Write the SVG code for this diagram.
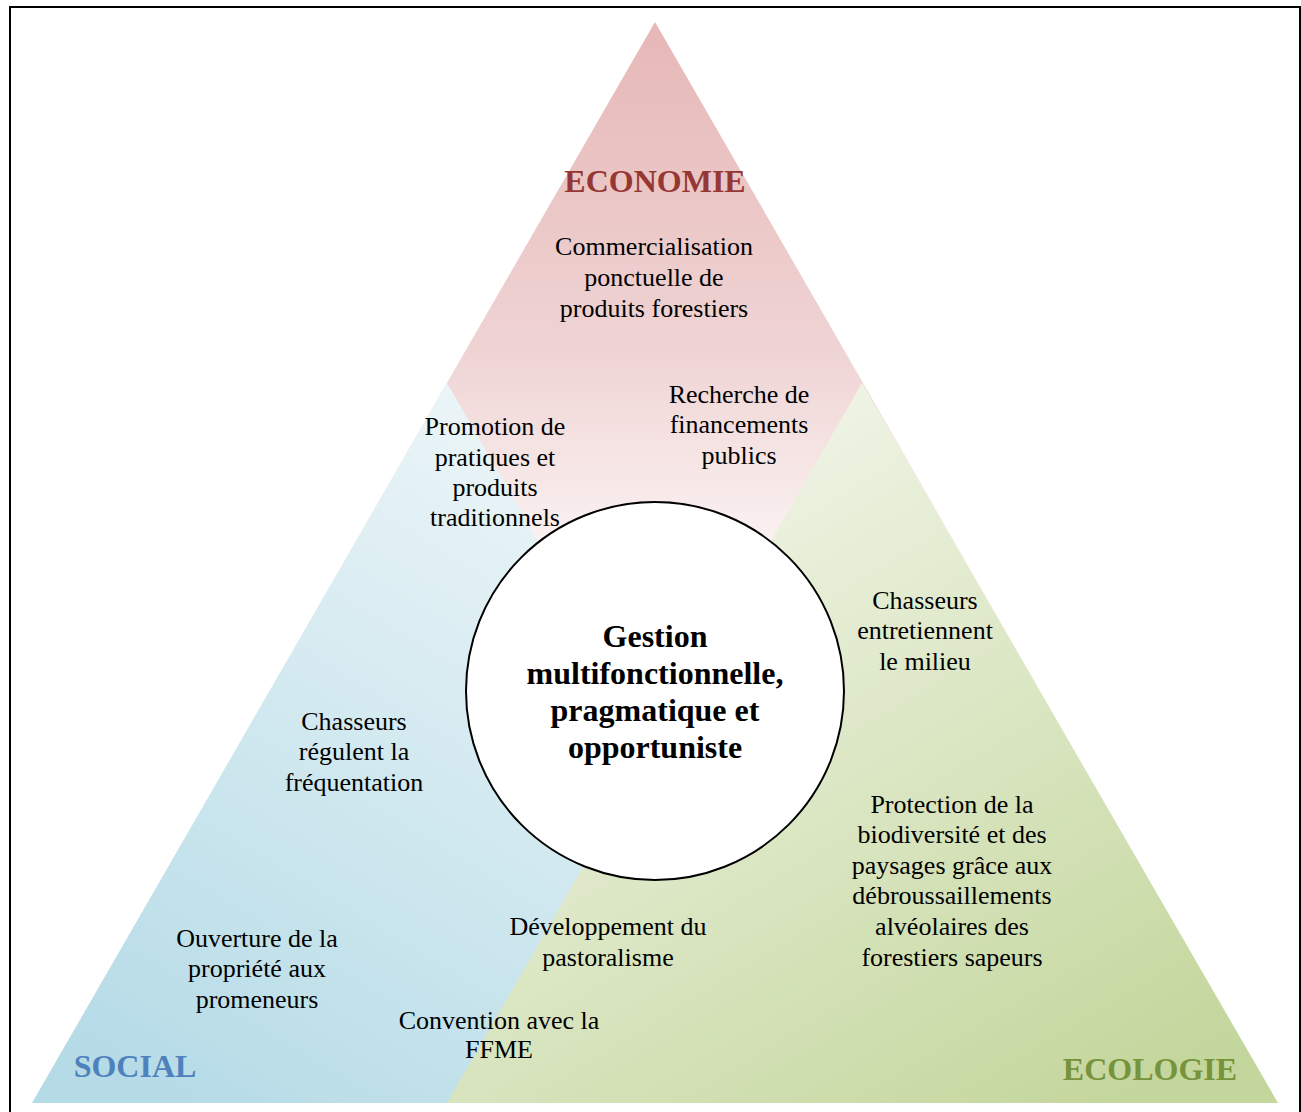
<svg xmlns="http://www.w3.org/2000/svg" width="1301" height="1112" viewBox="0 0 1301 1112">
<defs>
<linearGradient id="gRed" x1="0" y1="0" x2="0" y2="1">
<stop offset="0" stop-color="#E6B8B7"/>
<stop offset="0.45" stop-color="#EFD3D3"/>
<stop offset="0.72" stop-color="#FBF1F1"/>
<stop offset="1" stop-color="#FFFFFF"/>
</linearGradient>
<linearGradient id="gBlue" x1="0.85" y1="0" x2="0.15" y2="1">
<stop offset="0" stop-color="#F6FAFB"/>
<stop offset="1" stop-color="#B5DBE7"/>
</linearGradient>
<linearGradient id="gGreen" x1="0.15" y1="0" x2="0.85" y2="1">
<stop offset="0" stop-color="#F7F9F2"/>
<stop offset="1" stop-color="#C3D69B"/>
</linearGradient>
</defs>
<style>
.t{font-family:"Liberation Serif","Times New Roman",serif;font-size:26px;fill:#000;text-anchor:middle}
.h{font-family:"Liberation Serif","Times New Roman",serif;font-size:32px;font-weight:bold;text-anchor:middle}
</style>
<rect x="0" y="0" width="1301" height="1112" fill="#FFFFFF"/>
<rect x="10" y="7" width="1290" height="1120" fill="none" stroke="#000" stroke-width="2"/>
<g id="economie">
<polygon points="655,22 240,742 1070,742" fill="url(#gRed)"/>
</g>
<g id="social">
<polygon points="447,383 32,1103 862,1103" fill="url(#gBlue)"/>
</g>
<g id="ecologie">
<polygon points="862,383 447,1103 1278,1103" fill="url(#gGreen)"/>
</g>
<g id="connectors"></g>
<g id="labels-economie">
<text class="h" x="655" y="192" fill="#953735">ECONOMIE</text>
<text class="t" x="654" y="255">Commercialisation</text>
<text class="t" x="654" y="286">ponctuelle de</text>
<text class="t" x="654" y="317">produits forestiers</text>
<text class="t" x="739" y="403">Recherche de</text>
<text class="t" x="739" y="433">financements</text>
<text class="t" x="739" y="464">publics</text>
<text class="t" x="495" y="435">Promotion de</text>
<text class="t" x="495" y="466">pratiques et</text>
<text class="t" x="495" y="496">produits</text>
<text class="t" x="495" y="526">traditionnels</text>
</g>
<g id="centre">
<circle cx="655" cy="691" r="189" fill="#FFFFFF" stroke="#000" stroke-width="2"/>
<text class="h" x="655" y="647" fill="#000">Gestion</text>
<text class="h" x="655" y="684" fill="#000">multifonctionnelle,</text>
<text class="h" x="655" y="721" fill="#000">pragmatique et</text>
<text class="h" x="655" y="758" fill="#000">opportuniste</text>
</g>
<g id="labels-ecologie">
<text class="t" x="925" y="609">Chasseurs</text>
<text class="t" x="925" y="639">entretiennent</text>
<text class="t" x="925" y="670">le milieu</text>
<text class="t" x="952" y="813">Protection de la</text>
<text class="t" x="952" y="843">biodiversité et des</text>
<text class="t" x="952" y="874">paysages grâce aux</text>
<text class="t" x="952" y="904">débroussaillements</text>
<text class="t" x="952" y="935">alvéolaires des</text>
<text class="t" x="952" y="966">forestiers sapeurs</text>
<text class="t" x="608" y="935">Développement du</text>
<text class="t" x="608" y="966">pastoralisme</text>
<text class="h" x="1150" y="1080" fill="#77933C">ECOLOGIE</text>
</g>
<g id="labels-social">
<text class="t" x="354" y="730">Chasseurs</text>
<text class="t" x="354" y="760">régulent la</text>
<text class="t" x="354" y="791">fréquentation</text>
<text class="t" x="257" y="947">Ouverture de la</text>
<text class="t" x="257" y="977">propriété aux</text>
<text class="t" x="257" y="1008">promeneurs</text>
<text class="t" x="499" y="1029">Convention avec la</text>
<text class="t" x="499" y="1058">FFME</text>
<text class="h" x="135" y="1077" fill="#4F81BD">SOCIAL</text>
</g>
</svg>
